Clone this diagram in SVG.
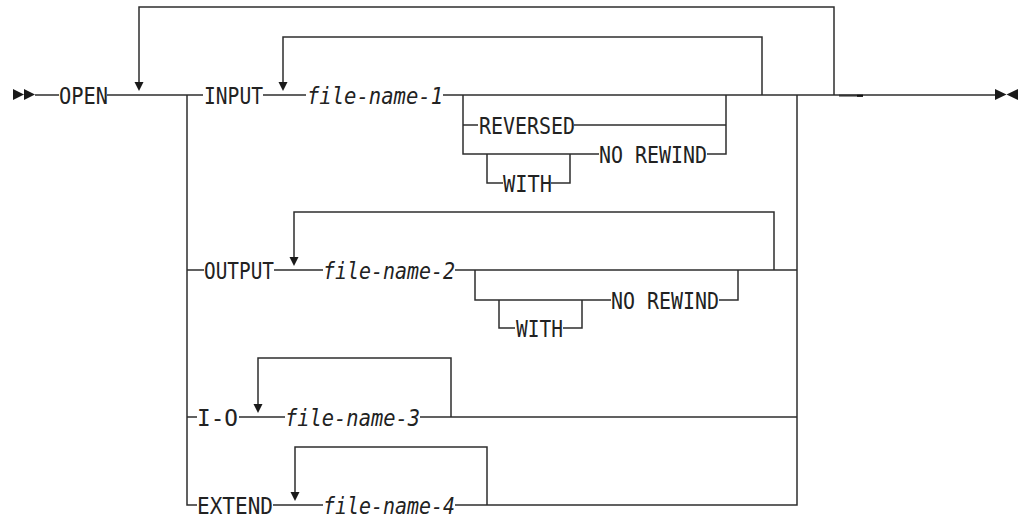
<svg xmlns="http://www.w3.org/2000/svg" width="1024" height="518" viewBox="0 0 1024 518">
<style>
.l{stroke:#2e2e2e;stroke-width:1.5;fill:none}
.t{font-family:"DejaVu Sans Mono","Liberation Mono",monospace;font-size:23.5px;fill:#222}
.i{font-style:italic}
.a{fill:#1a1a1a}
</style>
<rect width="1024" height="518" fill="#fff"/>
<g id="connectors">
<path class="l" d="M35 95H59M107 95H203M263 95H306M443 95H995"/>
<path class="l" d="M139 82V7H834V95"/>
<path class="l" d="M283 82V37H762V95"/>
<path class="l" d="M187 95V505H197M273 505H323M455 505H797V95"/>
<path class="l" d="M187 270H204M274 270H323M455 270H797"/>
<path class="l" d="M187 417H197M239 417H285M420 417H797"/>
<path class="l" d="M463 95V154H599M707 154H726V95M463 125H478M574 125H726"/>
<path class="l" d="M487 154V183H503M551 183H570V154"/>
<path class="l" d="M475 270V300H611M719 300H738V270"/>
<path class="l" d="M499 300V328H515M563 328H582V300"/>
<path class="l" d="M294 257V212H774V270"/>
<path class="l" d="M258 404V358H451V417"/>
<path class="l" d="M295 492V447H487V505"/>
<path d="M839 95.6H863" stroke="#333" stroke-width="1.9"/>
<path d="M857 95.8H863" stroke="#111" stroke-width="2"/>
<path class="a" d="M134.5 82H143.5L139 91Z"/>
<path class="a" d="M278.5 82H287.5L283 91Z"/>
<path class="a" d="M289.5 257H298.5L294 266Z"/>
<path class="a" d="M253.5 404H262.5L258 413Z"/>
<path class="a" d="M290.5 492H299.5L295 501Z"/>
<path class="a" d="M13 89L24 94.5L13 100ZM24 89L35 94.5L24 100Z"/>
<path class="a" d="M995 89L1006.5 94.5L995 100ZM1018 89L1006.5 94.5L1018 100Z"/>
</g>
<g id="open"><text class="t" x="59" y="103.5" textLength="49" lengthAdjust="spacingAndGlyphs">OPEN</text></g>
<g id="input"><text class="t" x="204" y="103.5" textLength="59" lengthAdjust="spacingAndGlyphs">INPUT</text></g>
<g id="file-name-1"><text class="t i" x="307" y="103.5" textLength="136" lengthAdjust="spacingAndGlyphs">file-name-1</text></g>
<g id="reversed"><text class="t" x="479" y="133.5" textLength="96" lengthAdjust="spacingAndGlyphs">REVERSED</text></g>
<g id="no-rewind-1"><text class="t" x="599" y="162.5" textLength="108" lengthAdjust="spacingAndGlyphs">NO REWIND</text></g>
<g id="with-1"><text class="t" x="503" y="191.5" textLength="49" lengthAdjust="spacingAndGlyphs">WITH</text></g>
<g id="output"><text class="t" x="204" y="278.5" textLength="70" lengthAdjust="spacingAndGlyphs">OUTPUT</text></g>
<g id="file-name-2"><text class="t i" x="323" y="278.5" textLength="132" lengthAdjust="spacingAndGlyphs">file-name-2</text></g>
<g id="no-rewind-2"><text class="t" x="611" y="308.5" textLength="108" lengthAdjust="spacingAndGlyphs">NO REWIND</text></g>
<g id="with-2"><text class="t" x="516" y="336.5" textLength="47" lengthAdjust="spacingAndGlyphs">WITH</text></g>
<g id="io"><text class="t" x="197" y="425.5" textLength="41" lengthAdjust="spacingAndGlyphs">I-O</text></g>
<g id="file-name-3"><text class="t i" x="285" y="425.5" textLength="135" lengthAdjust="spacingAndGlyphs">file-name-3</text></g>
<g id="extend"><text class="t" x="197" y="513.5" textLength="76" lengthAdjust="spacingAndGlyphs">EXTEND</text></g>
<g id="file-name-4"><text class="t i" x="323" y="513.5" textLength="132" lengthAdjust="spacingAndGlyphs">file-name-4</text></g>
</svg>
